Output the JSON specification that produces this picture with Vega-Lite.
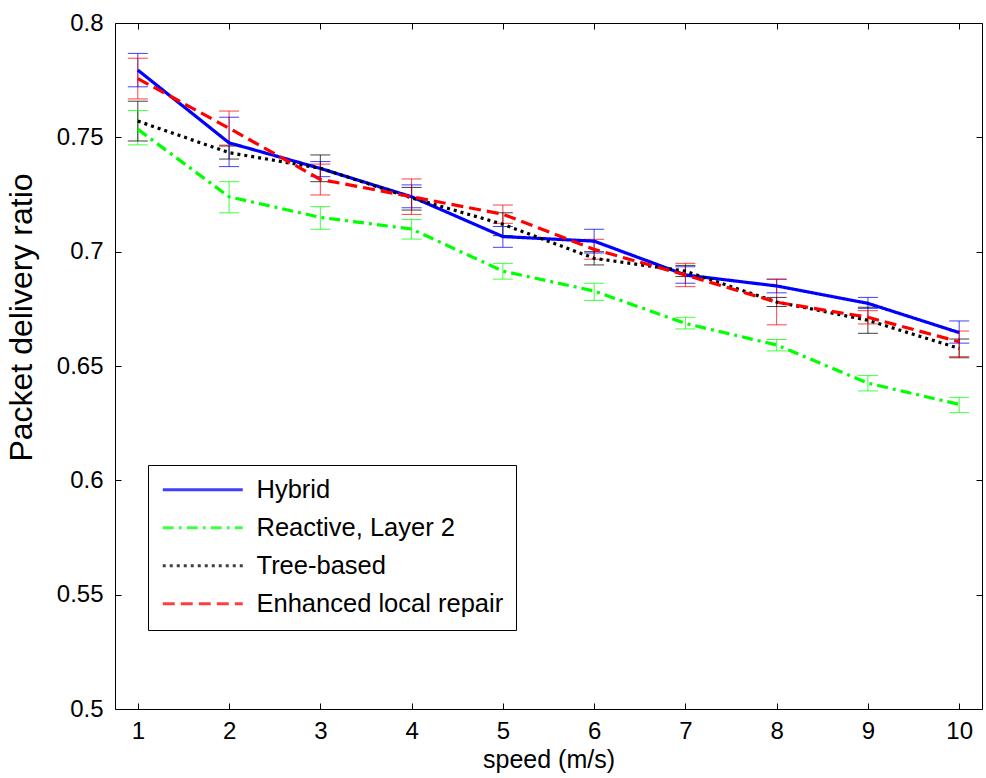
{
  "$schema": "https://vega.github.io/schema/vega-lite/v6.json",
  "autosize": {"type": "none"},
  "padding": {"left": 115, "top": 23, "right": 4, "bottom": 69},
  "width": 867,
  "height": 686,
  "background": "white",
  "config": {
    "font": "Liberation Sans",
    "view": {"stroke": null},
    "axis": {
      "grid": false,
      "domainColor": "black",
      "domainWidth": 1,
      "tickColor": "black",
      "tickSize": -6,
      "labelColor": "black",
      "titleColor": "black",
      "labelFont": "Liberation Sans",
      "titleFont": "Liberation Sans",
      "titleFontWeight": "normal",
      "labelFontSize": 24
    },
    "legend": {
      "title": null,
      "orient": "none",
      "legendX": 33,
      "legendY": 442,
      "direction": "vertical",
      "fillColor": "white",
      "strokeColor": "black",
      "padding": 12,
      "labelFontSize": 25.5,
      "labelColor": "black",
      "labelFont": "Liberation Sans",
      "symbolType": "M-4,0H4",
      "symbolSize": 400,
      "symbolStrokeWidth": 3,
      "symbolOffset": 30,
      "labelOffset": 41,
      "rowPadding": 11,
      "labelLimit": 400
    }
  },
  "data": {
    "values": [
      {"series": "Hybrid", "speed": 1, "pdr": 0.7794, "lo": 0.7721, "hi": 0.7867},
      {"series": "Hybrid", "speed": 2, "pdr": 0.7476, "lo": 0.7372, "hi": 0.7588},
      {"series": "Hybrid", "speed": 3, "pdr": 0.7364, "lo": 0.7328, "hi": 0.7394},
      {"series": "Hybrid", "speed": 4, "pdr": 0.7240, "lo": 0.7192, "hi": 0.7292},
      {"series": "Hybrid", "speed": 5, "pdr": 0.7066, "lo": 0.7019, "hi": 0.7110},
      {"series": "Hybrid", "speed": 6, "pdr": 0.7046, "lo": 0.6994, "hi": 0.7098},
      {"series": "Hybrid", "speed": 7, "pdr": 0.6898, "lo": 0.6862, "hi": 0.6934},
      {"series": "Hybrid", "speed": 8, "pdr": 0.6850, "lo": 0.6820, "hi": 0.6880},
      {"series": "Hybrid", "speed": 9, "pdr": 0.6774, "lo": 0.6752, "hi": 0.6800},
      {"series": "Hybrid", "speed": 10, "pdr": 0.6646, "lo": 0.6600, "hi": 0.6697},
      {"series": "Reactive, Layer 2", "speed": 1, "pdr": 0.7535, "lo": 0.7467, "hi": 0.7617},
      {"series": "Reactive, Layer 2", "speed": 2, "pdr": 0.7240, "lo": 0.7170, "hi": 0.7306},
      {"series": "Reactive, Layer 2", "speed": 3, "pdr": 0.7150, "lo": 0.7098, "hi": 0.7197},
      {"series": "Reactive, Layer 2", "speed": 4, "pdr": 0.7099, "lo": 0.7055, "hi": 0.7141},
      {"series": "Reactive, Layer 2", "speed": 5, "pdr": 0.6915, "lo": 0.6880, "hi": 0.6949},
      {"series": "Reactive, Layer 2", "speed": 6, "pdr": 0.6828, "lo": 0.6787, "hi": 0.6862},
      {"series": "Reactive, Layer 2", "speed": 7, "pdr": 0.6686, "lo": 0.6662, "hi": 0.6713},
      {"series": "Reactive, Layer 2", "speed": 8, "pdr": 0.6592, "lo": 0.6566, "hi": 0.6616},
      {"series": "Reactive, Layer 2", "speed": 9, "pdr": 0.6425, "lo": 0.6391, "hi": 0.6458},
      {"series": "Reactive, Layer 2", "speed": 10, "pdr": 0.6332, "lo": 0.6296, "hi": 0.6363},
      {"series": "Tree-based", "speed": 1, "pdr": 0.7571, "lo": 0.7484, "hi": 0.7658},
      {"series": "Tree-based", "speed": 2, "pdr": 0.7433, "lo": 0.7405, "hi": 0.7462},
      {"series": "Tree-based", "speed": 3, "pdr": 0.7365, "lo": 0.7306, "hi": 0.7423},
      {"series": "Tree-based", "speed": 4, "pdr": 0.7235, "lo": 0.7182, "hi": 0.7281},
      {"series": "Tree-based", "speed": 5, "pdr": 0.7120, "lo": 0.7070, "hi": 0.7170},
      {"series": "Tree-based", "speed": 6, "pdr": 0.6971, "lo": 0.6942, "hi": 0.7000},
      {"series": "Tree-based", "speed": 7, "pdr": 0.6915, "lo": 0.6891, "hi": 0.6940},
      {"series": "Tree-based", "speed": 8, "pdr": 0.6780, "lo": 0.6760, "hi": 0.6800},
      {"series": "Tree-based", "speed": 9, "pdr": 0.6700, "lo": 0.6643, "hi": 0.6757},
      {"series": "Tree-based", "speed": 10, "pdr": 0.6577, "lo": 0.6536, "hi": 0.6618},
      {"series": "Enhanced local repair", "speed": 1, "pdr": 0.7757, "lo": 0.7668, "hi": 0.7846},
      {"series": "Enhanced local repair", "speed": 2, "pdr": 0.7540, "lo": 0.7466, "hi": 0.7615},
      {"series": "Enhanced local repair", "speed": 3, "pdr": 0.7316, "lo": 0.7248, "hi": 0.7383},
      {"series": "Enhanced local repair", "speed": 4, "pdr": 0.7240, "lo": 0.7163, "hi": 0.7318},
      {"series": "Enhanced local repair", "speed": 5, "pdr": 0.7164, "lo": 0.7124, "hi": 0.7204},
      {"series": "Enhanced local repair", "speed": 6, "pdr": 0.7010, "lo": 0.6967, "hi": 0.7054},
      {"series": "Enhanced local repair", "speed": 7, "pdr": 0.6898, "lo": 0.6847, "hi": 0.6949},
      {"series": "Enhanced local repair", "speed": 8, "pdr": 0.6779, "lo": 0.6680, "hi": 0.6879},
      {"series": "Enhanced local repair", "speed": 9, "pdr": 0.6713, "lo": 0.6684, "hi": 0.6742},
      {"series": "Enhanced local repair", "speed": 10, "pdr": 0.6606, "lo": 0.6541, "hi": 0.6653}
    ]
  },
  "layer": [
    {
      "mark": {"type": "rule", "strokeWidth": 1, "opacity": 0.75},
      "encoding": {
        "x": {
          "field": "speed", "type": "quantitative",
          "scale": {"domain": [0.75, 10.25], "nice": false, "zero": false},
          "axis": {
            "orient": "bottom",
            "values": [1, 2, 3, 4, 5, 6, 7, 8, 9, 10],
            "title": "speed (m/s)",
            "titleFontSize": 25,
            "titlePadding": 4,
            "labelPadding": 16,
            "labelFlush": false
          }
        },
        "y": {
          "field": "lo", "type": "quantitative",
          "scale": {"domain": [0.5, 0.8], "nice": false, "zero": false},
          "axis": {
            "orient": "left",
            "values": [0.5, 0.55, 0.6, 0.65, 0.7, 0.75, 0.8],
            "format": ".2~f",
            "title": "Packet delivery ratio",
            "titleFontSize": 32,
            "titlePadding": 18,
            "titleY": 294,
            "labelPadding": 18,
            "labelFlush": false
          }
        },
        "y2": {"field": "hi"},
        "color": {
          "field": "series", "type": "nominal",
          "scale": {
            "domain": ["Hybrid", "Reactive, Layer 2", "Tree-based", "Enhanced local repair"],
            "range": ["#0000ff", "#00ff00", "#000000", "#ff0000"]
          }
        }
      }
    },
    {
      "mark": {"type": "tick", "orient": "horizontal", "size": 20, "thickness": 1, "opacity": 0.75},
      "encoding": {
        "x": {"field": "speed", "type": "quantitative", "axis": null},
        "y": {"field": "lo", "type": "quantitative", "axis": null},
        "color": {"field": "series", "type": "nominal"}
      }
    },
    {
      "mark": {"type": "tick", "orient": "horizontal", "size": 20, "thickness": 1, "opacity": 0.75},
      "encoding": {
        "x": {"field": "speed", "type": "quantitative", "axis": null},
        "y": {"field": "hi", "type": "quantitative", "axis": null},
        "color": {"field": "series", "type": "nominal"}
      }
    },
    {
      "mark": {"type": "line", "strokeWidth": 3.2},
      "encoding": {
        "x": {
          "field": "speed", "type": "quantitative",
          "axis": {"orient": "top", "values": [1, 2, 3, 4, 5, 6, 7, 8, 9, 10], "labels": false, "title": null}
        },
        "y": {
          "field": "pdr", "type": "quantitative",
          "axis": {"orient": "right", "values": [0.5, 0.55, 0.6, 0.65, 0.7, 0.75, 0.8], "labels": false, "title": null}
        },
        "color": {"field": "series", "type": "nominal"},
        "strokeDash": {
          "field": "series", "type": "nominal",
          "scale": {
            "domain": ["Hybrid", "Reactive, Layer 2", "Tree-based", "Enhanced local repair"],
            "range": [[1, 0], [11, 5, 3, 5], [3, 4], [12, 6]]
          }
        }
      }
    }
  ],
  "resolve": {"axis": {"x": "independent", "y": "independent"}}
}
